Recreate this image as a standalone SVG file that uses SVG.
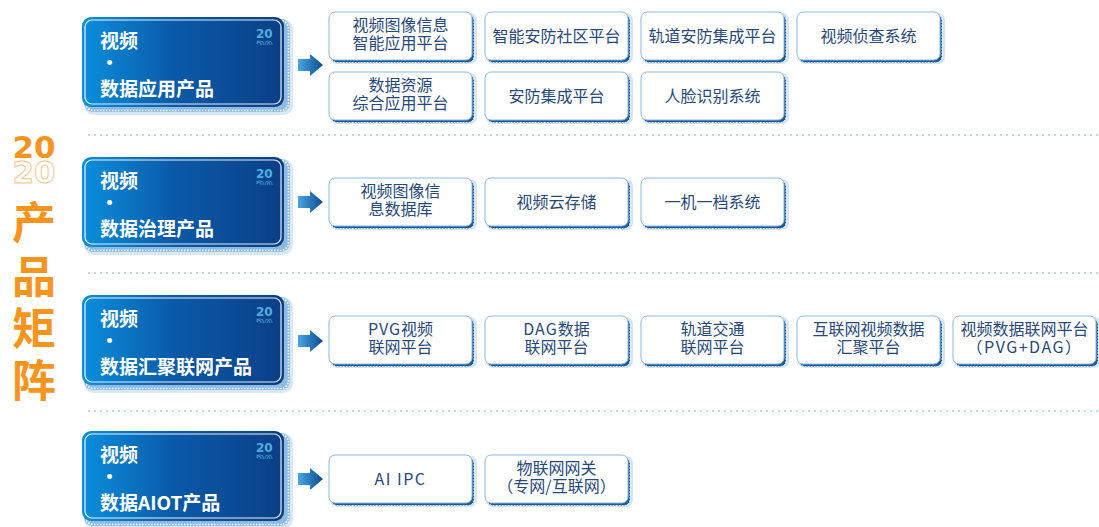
<svg xmlns="http://www.w3.org/2000/svg" width="1099" height="527" viewBox="0 0 1099 527">
<defs>
  <linearGradient id="gBig" x1="0" y1="0" x2="1" y2="0">
    <stop offset="0" stop-color="#0b8fdc"/>
    <stop offset="0.45" stop-color="#0a5aa8"/>
    <stop offset="1" stop-color="#0b3f86"/>
  </linearGradient>
  <linearGradient id="gArrow" x1="0" y1="0" x2="1" y2="0">
    <stop offset="0" stop-color="#4aa6e2"/>
    <stop offset="1" stop-color="#0b4a92"/>
  </linearGradient>
  <clipPath id="clipSmall">
    <rect x="170" y="0" width="30" height="23"/>
    <rect x="170" y="23" width="30" height="5"/>
  </clipPath>
  <clipPath id="clipTitle">
    <rect x="0" y="125" width="70" height="35"/>
    <rect x="0" y="160" width="70" height="28"/>
  </clipPath>
  <path id="arrow" d="M0,-6 H12 V-11 L25,0 L12,11 V6 H0 Z"/>
</defs>
<style>
  .sep{stroke:#bcdcf2;stroke-width:2;stroke-dasharray:2 4;fill:none}
  .bigGlow{fill:#d6e8f6}
  .bigBack{fill:#8dbbe3}
  .bigBead{fill:none;stroke:#ffffff;stroke-width:1.6;stroke-dasharray:1.6 1.4}
  .bigMain{fill:url(#gBig)}
  .bigInner{fill:none;stroke:#ffffff;stroke-width:1.2;opacity:0.9}
  .bigTxt{font-family:"Noto Sans CJK SC","Noto Sans",sans-serif;font-weight:bold;font-size:19px;fill:#ffffff}
  .yr{font-family:"DejaVu Sans",sans-serif;font-weight:bold;font-size:12px;fill:#4fb0e0}
  .yrO{fill:none;stroke:#4fb0e0;stroke-width:0.6}
  .sGlow{fill:#d3e5f4}
  .sBack{fill:#1c5a9c;stroke:#ffffff;stroke-width:1;stroke-dasharray:1.5 1.5}
  .sMain{fill:#ffffff;stroke:#8cb8de;stroke-width:1}
  .sTxt{font-family:"Noto Sans CJK SC","Noto Sans",sans-serif;font-size:16px;fill:#27497a;text-anchor:middle}
  .arr{fill:url(#gArrow)}
  .ttl{font-family:"Noto Sans CJK SC","Noto Sans",sans-serif;font-weight:bold;font-size:44px;fill:#f7941d;text-anchor:middle}
  .ttlNum{font-family:"DejaVu Sans",sans-serif;font-weight:bold;font-size:31px;fill:#f7941d;text-anchor:middle}
  .ttlNumO{fill:none;stroke:#f9c58a;stroke-width:1}
</style>
<rect width="1099" height="527" fill="#ffffff"/>

<g id="title">
  <text class="ttlNum" x="34" y="158" clip-path="url(#clipTitle)">20<tspan class="ttlNumO" x="34" y="183">20</tspan></text>
  <text class="ttl" x="34" y="239">产</text>
  <text class="ttl" x="34" y="293">品</text>
  <text class="ttl" x="34" y="345">矩</text>
  <text class="ttl" x="34" y="397">阵</text>
</g>

<g id="separators">
  <line class="sep" x1="88" y1="135" x2="1099" y2="135"/>
  <line class="sep" x1="88" y1="273" x2="1099" y2="273"/>
  <line class="sep" x1="88" y1="411" x2="1099" y2="411"/>
</g>

<g id="cat1" transform="translate(82,17)">
  <rect class="bigGlow" x="2" y="2" width="209" height="96" rx="10"/>
  <rect class="bigBack" x="2" y="2" width="206" height="93" rx="9"/>
  <rect class="bigBead" x="3.5" y="3.5" width="203" height="90" rx="8"/>
  <rect class="bigMain" x="0" y="0" width="202" height="90" rx="9"/>
  <rect class="bigInner" x="3" y="3" width="196" height="84" rx="7"/>
  <text class="bigTxt" x="18" y="31">视频</text>
  <text class="bigTxt" x="18" y="53">•</text>
  <text class="bigTxt" x="18" y="79">数据应用产品</text>
  <text class="yr" x="174" y="21" clip-path="url(#clipSmall)">20<tspan class="yrO" x="174" y="33">20</tspan></text>
</g>

<g id="cat2" transform="translate(82,157)">
  <rect class="bigGlow" x="2" y="2" width="209" height="96" rx="10"/>
  <rect class="bigBack" x="2" y="2" width="206" height="93" rx="9"/>
  <rect class="bigBead" x="3.5" y="3.5" width="203" height="90" rx="8"/>
  <rect class="bigMain" x="0" y="0" width="202" height="90" rx="9"/>
  <rect class="bigInner" x="3" y="3" width="196" height="84" rx="7"/>
  <text class="bigTxt" x="18" y="31">视频</text>
  <text class="bigTxt" x="18" y="53">•</text>
  <text class="bigTxt" x="18" y="79">数据治理产品</text>
  <text class="yr" x="174" y="21" clip-path="url(#clipSmall)">20<tspan class="yrO" x="174" y="33">20</tspan></text>
</g>

<g id="cat3" transform="translate(82,295)">
  <rect class="bigGlow" x="2" y="2" width="209" height="96" rx="10"/>
  <rect class="bigBack" x="2" y="2" width="206" height="93" rx="9"/>
  <rect class="bigBead" x="3.5" y="3.5" width="203" height="90" rx="8"/>
  <rect class="bigMain" x="0" y="0" width="202" height="90" rx="9"/>
  <rect class="bigInner" x="3" y="3" width="196" height="84" rx="7"/>
  <text class="bigTxt" x="18" y="31">视频</text>
  <text class="bigTxt" x="18" y="53">•</text>
  <text class="bigTxt" x="18" y="79">数据汇聚联网产品</text>
  <text class="yr" x="174" y="21" clip-path="url(#clipSmall)">20<tspan class="yrO" x="174" y="33">20</tspan></text>
</g>

<g id="cat4" transform="translate(82,431)">
  <rect class="bigGlow" x="2" y="2" width="209" height="96" rx="10"/>
  <rect class="bigBack" x="2" y="2" width="206" height="93" rx="9"/>
  <rect class="bigBead" x="3.5" y="3.5" width="203" height="90" rx="8"/>
  <rect class="bigMain" x="0" y="0" width="202" height="90" rx="9"/>
  <rect class="bigInner" x="3" y="3" width="196" height="84" rx="7"/>
  <text class="bigTxt" x="18" y="31">视频</text>
  <text class="bigTxt" x="18" y="53">•</text>
  <text class="bigTxt" x="18" y="79">数据AIOT产品</text>
  <text class="yr" x="174" y="21" clip-path="url(#clipSmall)">20<tspan class="yrO" x="174" y="33">20</tspan></text>
</g>

<g id="connectors">
  <use href="#arrow" class="arr" x="298" y="65"/>
  <use href="#arrow" class="arr" x="298" y="202"/>
  <use href="#arrow" class="arr" x="298" y="341"/>
  <use href="#arrow" class="arr" x="298" y="479"/>
</g>

<!-- section 1 -->
<g id="p1a" transform="translate(329,12)">
  <rect class="sGlow" x="1" y="1" width="147" height="51" rx="7"/>
  <rect class="sBack" x="2" y="2.5" width="143" height="48" rx="6"/>
  <rect class="sMain" x="0" y="0" width="143" height="48" rx="6"/>
  <text class="sTxt" x="71.5" y="19">视频图像信息<tspan x="71.5" y="37">智能应用平台</tspan></text>
</g>
<g id="p1b" transform="translate(485,12)">
  <rect class="sGlow" x="1" y="1" width="147" height="51" rx="7"/>
  <rect class="sBack" x="2" y="2.5" width="143" height="48" rx="6"/>
  <rect class="sMain" x="0" y="0" width="143" height="48" rx="6"/>
  <text class="sTxt" x="71.5" y="29.5">智能安防社区平台</text>
</g>
<g id="p1c" transform="translate(641,12)">
  <rect class="sGlow" x="1" y="1" width="147" height="51" rx="7"/>
  <rect class="sBack" x="2" y="2.5" width="143" height="48" rx="6"/>
  <rect class="sMain" x="0" y="0" width="143" height="48" rx="6"/>
  <text class="sTxt" x="71.5" y="29.5">轨道安防集成平台</text>
</g>
<g id="p1d" transform="translate(797,12)">
  <rect class="sGlow" x="1" y="1" width="147" height="51" rx="7"/>
  <rect class="sBack" x="2" y="2.5" width="143" height="48" rx="6"/>
  <rect class="sMain" x="0" y="0" width="143" height="48" rx="6"/>
  <text class="sTxt" x="71.5" y="29.5">视频侦查系统</text>
</g>
<g id="p1e" transform="translate(329,72)">
  <rect class="sGlow" x="1" y="1" width="147" height="51" rx="7"/>
  <rect class="sBack" x="2" y="2.5" width="143" height="48" rx="6"/>
  <rect class="sMain" x="0" y="0" width="143" height="48" rx="6"/>
  <text class="sTxt" x="71.5" y="19">数据资源<tspan x="71.5" y="37">综合应用平台</tspan></text>
</g>
<g id="p1f" transform="translate(485,72)">
  <rect class="sGlow" x="1" y="1" width="147" height="51" rx="7"/>
  <rect class="sBack" x="2" y="2.5" width="143" height="48" rx="6"/>
  <rect class="sMain" x="0" y="0" width="143" height="48" rx="6"/>
  <text class="sTxt" x="71.5" y="29.5">安防集成平台</text>
</g>
<g id="p1g" transform="translate(641,72)">
  <rect class="sGlow" x="1" y="1" width="147" height="51" rx="7"/>
  <rect class="sBack" x="2" y="2.5" width="143" height="48" rx="6"/>
  <rect class="sMain" x="0" y="0" width="143" height="48" rx="6"/>
  <text class="sTxt" x="71.5" y="29.5">人脸识别系统</text>
</g>

<!-- section 2 -->
<g id="p2a" transform="translate(329,178)">
  <rect class="sGlow" x="1" y="1" width="147" height="51" rx="7"/>
  <rect class="sBack" x="2" y="2.5" width="143" height="48" rx="6"/>
  <rect class="sMain" x="0" y="0" width="143" height="48" rx="6"/>
  <text class="sTxt" x="71.5" y="19">视频图像信<tspan x="71.5" y="37">息数据库</tspan></text>
</g>
<g id="p2b" transform="translate(485,178)">
  <rect class="sGlow" x="1" y="1" width="147" height="51" rx="7"/>
  <rect class="sBack" x="2" y="2.5" width="143" height="48" rx="6"/>
  <rect class="sMain" x="0" y="0" width="143" height="48" rx="6"/>
  <text class="sTxt" x="71.5" y="29.5">视频云存储</text>
</g>
<g id="p2c" transform="translate(641,178)">
  <rect class="sGlow" x="1" y="1" width="147" height="51" rx="7"/>
  <rect class="sBack" x="2" y="2.5" width="143" height="48" rx="6"/>
  <rect class="sMain" x="0" y="0" width="143" height="48" rx="6"/>
  <text class="sTxt" x="71.5" y="29.5">一机一档系统</text>
</g>

<!-- section 3 -->
<g id="p3a" transform="translate(329,316)">
  <rect class="sGlow" x="1" y="1" width="147" height="51" rx="7"/>
  <rect class="sBack" x="2" y="2.5" width="143" height="48" rx="6"/>
  <rect class="sMain" x="0" y="0" width="143" height="48" rx="6"/>
  <text class="sTxt" x="71.5" y="19"><tspan letter-spacing="1">PVG</tspan>视频<tspan x="71.5" y="37">联网平台</tspan></text>
</g>
<g id="p3b" transform="translate(485,316)">
  <rect class="sGlow" x="1" y="1" width="147" height="51" rx="7"/>
  <rect class="sBack" x="2" y="2.5" width="143" height="48" rx="6"/>
  <rect class="sMain" x="0" y="0" width="143" height="48" rx="6"/>
  <text class="sTxt" x="71.5" y="19"><tspan letter-spacing="1">DAG</tspan>数据<tspan x="71.5" y="37">联网平台</tspan></text>
</g>
<g id="p3c" transform="translate(641,316)">
  <rect class="sGlow" x="1" y="1" width="147" height="51" rx="7"/>
  <rect class="sBack" x="2" y="2.5" width="143" height="48" rx="6"/>
  <rect class="sMain" x="0" y="0" width="143" height="48" rx="6"/>
  <text class="sTxt" x="71.5" y="19">轨道交通<tspan x="71.5" y="37">联网平台</tspan></text>
</g>
<g id="p3d" transform="translate(797,316)">
  <rect class="sGlow" x="1" y="1" width="147" height="51" rx="7"/>
  <rect class="sBack" x="2" y="2.5" width="143" height="48" rx="6"/>
  <rect class="sMain" x="0" y="0" width="143" height="48" rx="6"/>
  <text class="sTxt" x="71.5" y="19">互联网视频数据<tspan x="71.5" y="37">汇聚平台</tspan></text>
</g>
<g id="p3e" transform="translate(953,316)">
  <rect class="sGlow" x="1" y="1" width="147" height="51" rx="7"/>
  <rect class="sBack" x="2" y="2.5" width="143" height="48" rx="6"/>
  <rect class="sMain" x="0" y="0" width="143" height="48" rx="6"/>
  <text class="sTxt" x="71.5" y="19">视频数据联网平台<tspan x="71.5" y="37" letter-spacing="1.5">（PVG+DAG）</tspan></text>
</g>

<!-- section 4 -->
<g id="p4a" transform="translate(329,455)">
  <rect class="sGlow" x="1" y="1" width="147" height="51" rx="7"/>
  <rect class="sBack" x="2" y="2.5" width="143" height="48" rx="6"/>
  <rect class="sMain" x="0" y="0" width="143" height="48" rx="6"/>
  <text class="sTxt" x="71.5" y="29.5" letter-spacing="1.5">AI IPC</text>
</g>
<g id="p4b" transform="translate(485,455)">
  <rect class="sGlow" x="1" y="1" width="147" height="51" rx="7"/>
  <rect class="sBack" x="2" y="2.5" width="143" height="48" rx="6"/>
  <rect class="sMain" x="0" y="0" width="143" height="48" rx="6"/>
  <text class="sTxt" x="71.5" y="19">物联网网关<tspan x="71.5" y="37">（专网/互联网）</tspan></text>
</g>
</svg>
